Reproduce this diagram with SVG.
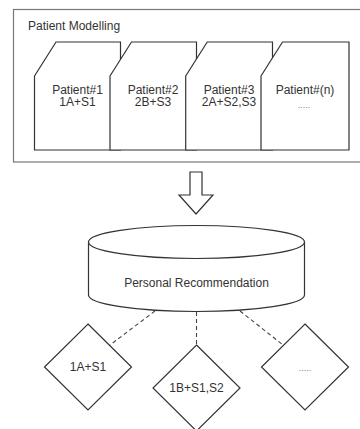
<svg xmlns="http://www.w3.org/2000/svg" width="360" height="429" viewBox="0 0 360 429">
<style>
text{font-family:"Liberation Sans",Arial,sans-serif;fill:#333;font-size:12px}
.c{text-anchor:middle}
.dots{font-size:9px;fill:#777}
.shape{fill:#fff;stroke:#333;stroke-width:1.2}
.dash{fill:none;stroke:#444;stroke-width:1.1;stroke-dasharray:4 3}
</style>
<rect width="360" height="429" fill="#fff"/>
<g id="patient-modelling">
<rect x="13.5" y="9.5" width="352" height="152.5" fill="#fff" stroke="#777" stroke-width="1.2"/>
<text x="28" y="29.5" font-size="12.5">Patient Modelling</text>
</g>
<g id="patient1">
<path class="shape" d="M34.5,76 L56,42 L120.5,42 L120.5,150 L34.5,150 Z"/>
<text class="c" x="77.5" y="93.5">Patient#1</text>
<text class="c" x="77.5" y="106">1A+S1</text>
</g>
<g id="patient2">
<path class="shape" d="M110,76 L131.5,42 L196.5,42 L196.5,150 L110,150 Z"/>
<text class="c" x="153" y="93.5">Patient#2</text>
<text class="c" x="153" y="106">2B+S3</text>
</g>
<g id="patient3">
<path class="shape" d="M185.7,76 L207.2,42 L272.5,42 L272.5,150 L185.7,150 Z"/>
<text class="c" x="229" y="93.5">Patient#3</text>
<text class="c" x="229" y="106">2A+S2,S3</text>
</g>
<g id="patientn">
<path class="shape" d="M261,76 L282.5,42 L349,42 L349,150 L261,150 Z"/>
<text class="c" x="305" y="93.5">Patient#(n)</text>
<text class="c dots" x="304" y="108">.....</text>
</g>
<g id="arrow">
<path class="shape" d="M190,172 L202,172 L202,195 L213,195 L196,214 L179,195 L190,195 Z"/>
</g>
<g id="personal-recommendation">
<path class="shape" d="M88.5,242 L88.5,295 A108,16.5 0 0 0 304.5,295 L304.5,242 A108,16.5 0 0 0 88.5,242 Z"/>
<path class="shape" fill="none" d="M88.5,242 A108,16.5 0 0 0 304.5,242"/>
<text class="c" x="196.5" y="286.5" font-size="13">Personal Recommendation</text>
</g>
<g id="connectors">
<line class="dash" x1="155" y1="311" x2="110" y2="345"/>
<line class="dash" x1="196.5" y1="312" x2="196.5" y2="345"/>
<line class="dash" x1="240" y1="311" x2="283" y2="345"/>
</g>
<g id="rec1">
<path class="shape" d="M88,324 L131.5,367 L88,410 L44.5,367 Z"/>
<text class="c" x="88" y="371">1A+S1</text>
</g>
<g id="rec2">
<path class="shape" d="M196.5,345 L240,388 L196.5,431 L153,388 Z"/>
<text class="c" x="196.5" y="392">1B+S1,S2</text>
</g>
<g id="rec3">
<path class="shape" d="M305,324 L348.5,367 L305,410 L261.5,367 Z"/>
<text class="c dots" x="305" y="371">.....</text>
</g>
</svg>
